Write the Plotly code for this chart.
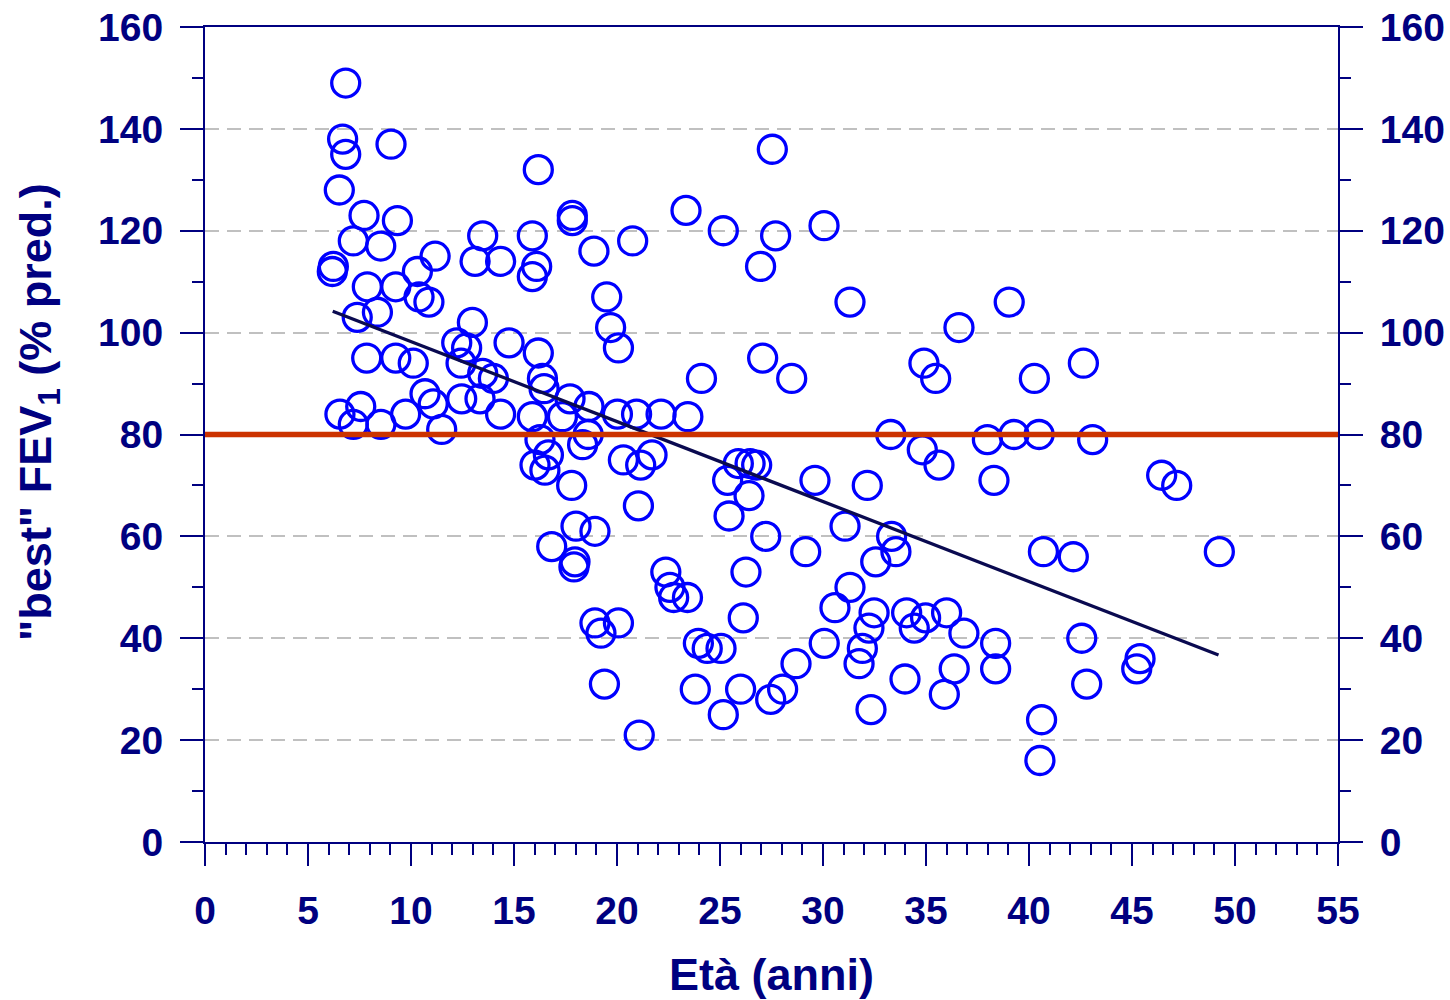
import plotly.graph_objects as go

# ---- data ----
age = [6.83, 6.68, 6.83, 9.03, 6.52, 16.18, 7.72, 9.34, 7.20, 8.53,
       13.48, 13.11, 14.35, 15.89, 16.10, 15.89, 17.83, 17.83, 18.88, 20.76,
       23.35, 6.23, 6.18, 11.17, 10.31, 7.88, 9.26, 10.39, 10.87, 7.39,
       8.37, 19.50, 19.69, 20.07, 12.98, 12.22, 12.70, 12.43, 14.76, 16.18,
       7.85, 9.26, 10.11, 13.48, 14.00, 16.38, 16.46, 24.10, 10.68, 11.08,
       12.46, 13.35, 6.55, 7.56, 7.20, 8.54, 9.74, 11.49, 14.35, 15.89,
       17.72, 17.35, 18.64, 20.02, 20.95, 22.14, 23.44, 18.60, 16.26, 16.67,
       16.02, 16.50, 18.33, 20.31, 21.15, 21.70, 17.80, 21.04, 18.01, 18.93,
       16.83, 17.96, 17.91, 22.37, 22.57, 22.75, 23.42, 18.93, 20.07, 19.22,
       19.39, 21.08, 23.95, 23.80, 33.29, 34.82, 35.63, 37.98, 39.27, 40.49,
       38.30, 25.89, 26.46, 26.78, 25.37, 26.41, 25.44, 29.61, 32.15, 31.07,
       33.33, 33.54, 32.56, 27.22, 29.16, 26.26, 26.13, 31.31, 30.58, 32.48,
       32.23, 31.91, 31.75, 30.06, 34.06, 34.98, 36.00, 34.43, 36.84, 38.38,
       38.38, 36.37, 35.89, 33.98, 32.33, 24.38, 25.05, 26.00, 25.16, 27.46,
       28.04, 28.69, 40.70, 40.61, 40.53, 27.54, 25.16, 27.70, 30.05, 26.97,
       31.31, 39.04, 36.60, 27.07, 28.48, 34.90, 35.47, 40.26, 42.64, 43.09,
       46.44, 47.17, 42.15, 49.24, 42.56, 42.80, 45.39, 45.23]
fev1 = [149, 138, 135, 137, 128, 132, 123, 122, 118, 117,
        119, 114, 114, 119, 113, 111, 123, 122, 116, 118,
        124, 113, 112, 115, 112, 109, 109, 107, 106, 103,
        104, 107, 101, 97, 102, 98, 97, 94, 98, 96,
        95, 95, 94, 92, 91, 91, 89, 91, 88, 86,
        87, 87, 84, 85.5, 82, 82, 84, 81, 84, 83.5,
        87, 83.5, 85.5, 84, 84, 84, 83.5, 80, 79, 76,
        74, 73, 78, 75, 74, 76, 70, 66, 62, 61,
        58, 55, 54, 53, 50, 48, 48, 43, 43, 41,
        31, 21, 39, 30, 80, 77, 74, 79, 80, 80,
        71, 74.3, 74.3, 74, 71, 68, 64, 71, 70, 62,
        60, 57, 55, 60, 57, 53, 44, 50, 46, 45,
        42, 38, 35, 39, 45, 44, 45, 42, 41, 39,
        34, 34, 29, 32, 26, 38, 38, 30, 25, 28,
        30, 35, 57, 24, 16, 136, 120, 119, 121, 113,
        106, 106, 101, 95, 91, 94, 91, 91, 94, 79,
        72, 70, 56, 57, 40, 31, 36, 34]

fit_x = [6.2, 49.2]
fit_y = [104.2, 36.7]
threshold = 80

x_ticks = list(range(0, 56, 5))
y_ticks = list(range(0, 161, 20))

NAVY = "#000080"
FONT = "Liberation Sans"

fig = go.Figure()

fig.add_trace(go.Scatter(
    x=age, y=fev1, mode="markers",
    marker=dict(symbol="circle-open", size=28, color="#0000FF",
                line=dict(width=3.3, color="#0000FF")),
    showlegend=False, hoverinfo="x+y"))

fig.add_trace(go.Scatter(
    x=fit_x, y=fit_y, mode="lines",
    line=dict(color="#0A0A50", width=3.3), showlegend=False))

fig.add_trace(go.Scatter(
    x=[x_ticks[0], x_ticks[-1]], y=[threshold, threshold], mode="lines",
    line=dict(color="#CC3300", width=5.5), showlegend=False))

# dummy trace to activate the right-hand axis
fig.add_trace(go.Scatter(x=[None], y=[None], yaxis="y2", showlegend=False,
                         hoverinfo="skip"))

tickfont = dict(family=FONT, size=39, color=NAVY, weight="bold")

yax_common = dict(
    range=[0, 160], tickvals=y_ticks, ticks="outside", ticklen=23,
    tickwidth=2, tickcolor=NAVY, showline=True, linecolor=NAVY, linewidth=2,
    zeroline=False, tickfont=tickfont, ticklabelstandoff=9, automargin=False,
    minor=dict(dtick=10, ticks="outside", ticklen=11, tickwidth=2,
               tickcolor=NAVY, showgrid=False),
)

fig.update_layout(
    width=1450, height=1000,
    margin=dict(l=205, r=112, t=27, b=158, autoexpand=False),
    paper_bgcolor="white", plot_bgcolor="white",
    xaxis=dict(
        range=[0, 55], tickvals=x_ticks, ticks="outside", ticklen=22,
        tickwidth=2, tickcolor=NAVY, showline=True, mirror=True,
        linecolor=NAVY, linewidth=2, showgrid=False, zeroline=False,
        tickfont=tickfont, ticklabelstandoff=11, automargin=False,
        minor=dict(dtick=1, ticks="outside", ticklen=11, tickwidth=2,
                   tickcolor=NAVY, showgrid=False),
    ),
    yaxis=dict(**yax_common, showgrid=True, gridcolor="#C0C0C0",
               gridwidth=2, griddash="14px,8px"),
    yaxis2=dict(**yax_common, overlaying="y", side="right", showgrid=False),
    annotations=[
        dict(text="Età (anni)", xref="paper", yref="paper", x=0.5,
             y=-0.162, xanchor="center", yanchor="middle", showarrow=False,
             font=dict(family=FONT, size=45, color=NAVY, weight="bold")),
        dict(text='"best" FEV<sub>1</sub> (% pred.)', xref="paper",
             yref="paper", x=-0.1474, y=0.5276, xanchor="center",
             yanchor="middle", textangle=-90, showarrow=False,
             font=dict(family=FONT, size=45, color=NAVY, weight="bold")),
    ],
)

fig.write_html("out.html",
               config={"displayModeBar": False},
               post_script="document.body.style.margin='0';"
                           "document.body.style.padding='0';")
